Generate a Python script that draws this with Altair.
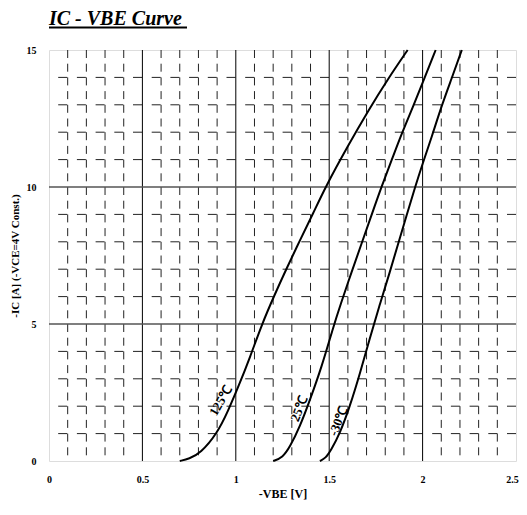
import altair as alt
import pandas as pd

# ---- data ----
v_125 = [0.70, 0.75, 0.81, 0.90, 0.96, 1.013, 1.076, 1.14, 1.21, 1.27, 1.343, 1.415, 1.48, 1.60, 1.71, 1.815, 1.92]
i_125 = [0.0, 0.08, 0.28, 1.0, 1.85, 2.7, 3.78, 5.0, 6.1, 7.0, 8.05, 9.05, 10.0, 11.5, 12.8, 13.95, 15.0]

v_25 = [1.20, 1.25, 1.29, 1.343, 1.397, 1.46, 1.52, 1.56, 1.62, 1.674, 1.727, 1.78, 1.835, 1.888, 1.95, 2.01, 2.07]
i_25 = [0.0, 0.12, 0.52, 1.25, 2.23, 3.44, 4.85, 5.7, 6.9, 7.95, 8.98, 10.01, 10.99, 11.95, 12.95, 13.97, 15.0]

v_m30 = [1.45, 1.48, 1.51, 1.557, 1.61, 1.665, 1.718, 1.77, 1.825, 1.87, 1.915, 1.96, 2.0, 2.05, 2.10, 2.156, 2.21]
i_m30 = [0.0, 0.1, 0.4, 1.0, 1.98, 3.2, 4.5, 5.7, 6.9, 7.95, 8.98, 10.0, 10.85, 11.85, 12.93, 13.97, 15.0]

label_text = ["125℃", "25℃", "-30℃"]
label_v = [0.92, 1.34, 1.55]
label_i = [2.2, 1.9, 1.45]
label_angle = [300, 292, 292]

title_text = "IC - VBE Curve"

x_ticks = [0, 0.5, 1, 1.5, 2, 2.5]
y_ticks = [0, 5, 10, 15]
x_major = [0.5, 1.0, 1.5, 2.0]
x_minor = [0.1, 0.2, 0.3, 0.4, 0.6, 0.7, 0.8, 0.9, 1.1, 1.2, 1.3, 1.4,
           1.6, 1.7, 1.8, 1.9, 2.1, 2.2, 2.3, 2.4]
y_major = [5, 10]
y_minor = [1, 2, 3, 4, 6, 7, 8, 9, 11, 12, 13, 14]

FONT = "Liberation Serif"

curves = pd.concat([
    pd.DataFrame({"v": v_125, "i": i_125, "t": "125"}),
    pd.DataFrame({"v": v_25, "i": i_25, "t": "25"}),
    pd.DataFrame({"v": v_m30, "i": i_m30, "t": "-30"}),
])

xs = alt.Scale(domain=[0, 2.5], nice=False, zero=False)
ys = alt.Scale(domain=[0, 15], nice=False, zero=False)

x_axis = alt.Axis(values=x_ticks, format="~g", grid=False, ticks=False, domain=False,
                  labelFont=FONT, labelFontWeight="bold", labelFontSize=10,
                  labelColor="black", labelPadding=13, labelFlush=False,
                  labelOffset=alt.condition("datum.value >= 2.5", alt.value(-4), alt.value(0)),
                  title="-VBE [V]", titleFont=FONT, titleFontWeight="bold",
                  titleFontSize=12, titleColor="black", titlePadding=4)
y_axis = alt.Axis(values=y_ticks, format="~g", grid=False, ticks=False, domain=False,
                  labelFont=FONT, labelFontWeight="bold", labelFontSize=10,
                  labelColor="black", labelPadding=13, labelFlush=False,
                  title="-IC [A]  (-VCE=4V  Const.)", titleFont=FONT,
                  titleFontWeight="bold", titleFontSize=11, titleColor="black",
                  titlePadding=6)

base_x = alt.X("v:Q", scale=xs, axis=x_axis)
base_y = alt.Y("i:Q", scale=ys, axis=y_axis)

vmin = alt.Chart(pd.DataFrame({"v": x_minor})).mark_rule(
    color="#222", strokeWidth=1, strokeDash=[8, 5.7]).encode(x=alt.X("v:Q", scale=xs, axis=x_axis))
vmaj = alt.Chart(pd.DataFrame({"v": x_major})).mark_rule(
    color="black", strokeWidth=1).encode(x=alt.X("v:Q", scale=xs, axis=x_axis))
hmin = alt.Chart(pd.DataFrame({"i": y_minor})).mark_rule(
    color="#222", strokeWidth=1, strokeDash=[9, 9.7]).encode(y=alt.Y("i:Q", scale=ys, axis=y_axis))
hmaj = alt.Chart(pd.DataFrame({"i": y_major})).mark_rule(
    color="#555", strokeWidth=1.3).encode(y=alt.Y("i:Q", scale=ys, axis=y_axis))

lines = alt.Chart(curves).mark_line(color="black", strokeWidth=2, interpolate="basis").encode(
    x=base_x, y=base_y, detail="t:N")

labels = []
for t, v, i, a in zip(label_text, label_v, label_i, label_angle):
    labels.append(
        alt.Chart(pd.DataFrame({"v": [v], "i": [i], "t": [t]})).mark_text(
            font=FONT, fontWeight="bold", fontSize=13, angle=a, color="black",
            align="center", baseline="middle").encode(x=base_x, y=base_y, text="t:N"))

title = alt.Chart(pd.DataFrame({"t": [title_text]})).mark_text(
    font=FONT, fontSize=20, fontWeight="bold", fontStyle="italic", color="black",
    align="left", baseline="alphabetic").encode(
    x=alt.value(0), y=alt.value(-25.5), text="t:N")

underline = alt.Chart(pd.DataFrame({"a": [0]})).mark_rule(color="black", strokeWidth=2).encode(
    x=alt.value(0), x2=alt.value(138), y=alt.value(-22.5))

chart = alt.layer(vmin, hmin, vmaj, hmaj, lines, *labels, title, underline).properties(
    width=467, height=411,
    autosize=alt.AutoSizeParams(type="none"),
    padding={"left": 41, "top": 42, "right": 3, "bottom": 46},
).configure_view(stroke="black", strokeWidth=2.5).configure(background="white")

chart.save("out.html", embed_options={"renderer": "svg", "actions": False})
